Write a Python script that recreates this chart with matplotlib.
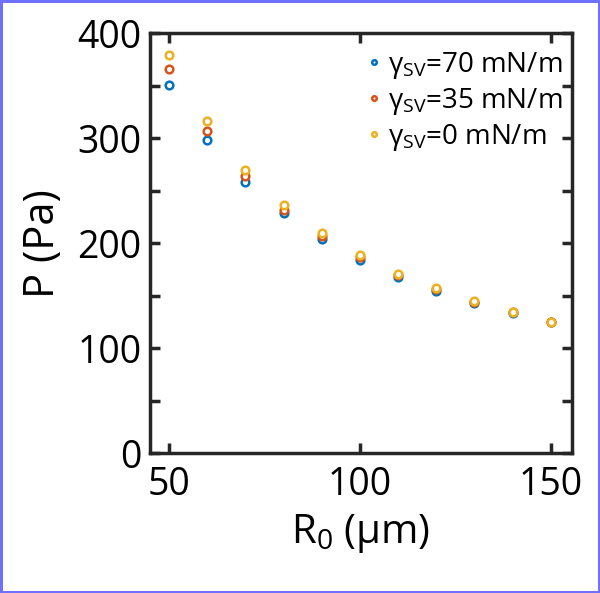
import matplotlib
matplotlib.use("Agg")
import matplotlib.pyplot as plt
from matplotlib.ticker import MultipleLocator, FuncFormatter

plt.rcParams["font.family"] = ["Open Sans", "DejaVu Sans"]
plt.rcParams["mathtext.fontset"] = "custom"
plt.rcParams["mathtext.rm"] = "Open Sans"
plt.rcParams["mathtext.it"] = "Open Sans:italic"

# radius R0 (um) and pressure P (Pa) for three solid-vapour tensions
r0 = [50, 60, 70, 80, 90, 100, 110, 120, 130, 140, 150]
p_70 = [351, 298, 258, 229, 204, 184, 168, 154, 143, 133, 125]
p_35 = [366, 307, 264, 232, 207, 187, 170, 156, 144, 134, 125]
p_0 = [379, 316, 270, 236, 210, 189, 171, 157, 145, 134, 125]
labels = ["γ$_{\\mathregular{SV}}$=70 mN/m",
          "γ$_{\\mathregular{SV}}$=35 mN/m",
          "γ$_{\\mathregular{SV}}$=0 mN/m"]
colors = ["#0072BD", "#D95319", "#EDB120"]

fig = plt.figure(figsize=(6, 5.93), dpi=100, edgecolor="#7070ff", linewidth=2.5)
ax = fig.add_axes([0.25, 0.236, 0.703, 0.708])

for ys, lab, c in zip([p_70, p_35, p_0], labels, colors):
    ax.plot(r0, ys, "o", ms=5.5, mfc="white", mec=c, mew=1.8, ls="none", label=lab)

ax.set_xlim(45, 155.5)
ax.set_ylim(0, 400)
ax.set_xticks([50, 100, 150])
ax.yaxis.set_major_locator(MultipleLocator(50))
ax.yaxis.set_major_formatter(FuncFormatter(lambda v, _: f"{v:.0f}" if v % 100 == 0 else ""))
ax.tick_params(direction="in", length=7, width=2.5, labelsize=27, color="#262626",
               top=True, right=True)
ax.tick_params(axis="y", pad=6)
ax.tick_params(axis="x", pad=9)
for s in ax.spines.values():
    s.set_linewidth(2.5)
    s.set_color("#262626")

ax.set_xlabel("R$_0$ (μm)", fontsize=29, labelpad=6)
ax.set_ylabel("P (Pa)", fontsize=30, labelpad=10)

leg = ax.legend(loc="upper right", bbox_to_anchor=(1.0, 0.983), frameon=False,
                fontsize=20, markerscale=0.6, handletextpad=0.1, handlelength=0.8,
                labelspacing=0.18, borderaxespad=0.15, borderpad=0.2)

fig.savefig("out.png", dpi=100, edgecolor=fig.get_edgecolor())
